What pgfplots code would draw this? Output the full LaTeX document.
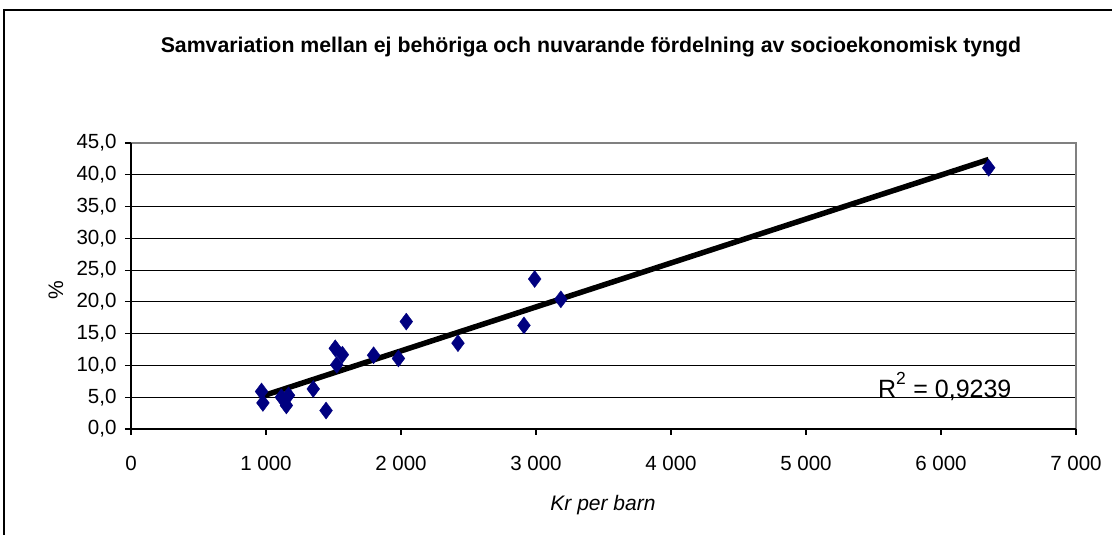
\documentclass[border=0pt]{standalone}
\usepackage{fontspec}
\setmainfont{Liberation Sans}
\usepackage{pgfplots}
\pgfplotsset{compat=1.18}
\definecolor{navy}{RGB}{0,0,128}
\definecolor{frame}{RGB}{128,128,128}
\begin{document}
\begin{tikzpicture}[x=1pt,y=1pt]
\useasboundingbox (-131,-106) rectangle (981,429);
\fill[white] (-131,-106) rectangle (981,429);
\draw[line width=1.5pt] (-127,-112) -- (-127,419) -- (990,419);
\begin{axis}[at={(0,0)}, anchor=south west, scale only axis,
  width=945pt, height=286pt,
  xmin=0, xmax=7000, ymin=0, ymax=45,
  xtick={0,1000,2000,3000,4000,5000,6000,7000},
  xticklabels={0,1 000,2 000,3 000,4 000,5 000,6 000,7 000},
  ytick={0,5,10,15,20,25,30,35,40,45},
  yticklabels={{0,0},{5,0},{10,0},{15,0},{20,0},{25,0},{30,0},{35,0},{40,0},{45,0}},
  ticklabel style={font=\fontsize{20.5}{22}\selectfont},
  xticklabel style={yshift=-18pt},
  yticklabel style={xshift=-5pt},
  xtick pos=bottom, ytick pos=left,
  tick align=outside, major tick length=6pt,
  tick style={black, line width=1.2pt},
  axis line style={draw=none},
  ymajorgrids, grid style={black, line width=1.2pt},
  clip=false,
]
\draw[frame, line width=2pt] (rel axis cs:0,1) -- (rel axis cs:1,1) -- (rel axis cs:1,0);
\draw[black, line width=1.5pt] (rel axis cs:0,1) -- (rel axis cs:0,0) -- (rel axis cs:1,0);
\addplot[only marks, mark=diamond*, mark size=8.5pt, color=navy] coordinates {
(967,5.9) (977,4.1) (1114,5.0) (1151,3.7) (1167,5.3) (1350,6.3) (1445,2.9)
(1513,12.7) (1566,11.7) (1524,10.1) (1797,11.6) (1981,11.1) (2039,16.9)
(2422,13.5) (2911,16.3) (2990,23.6) (3184,20.4) (6353,41.1)
};
\addplot[black, line width=5.5pt] coordinates {(967,5.14) (6353,42.4)};
\node[anchor=base west, font=\fontsize{25}{27}\selectfont, inner sep=0pt] at (axis cs:5533,5.0) {R\raisebox{4pt}{\textsuperscript{2}} = 0,9239};
\end{axis}
\node[font=\bfseries\fontsize{21.3}{23}\selectfont] at (591-131,382) {Samvariation mellan ej behöriga och nuvarande fördelning av socioekonomisk tyngd};
\node[font=\itshape\fontsize{21}{23}\selectfont] at (472,-76) {Kr per barn};
\node[font=\fontsize{21}{23}\selectfont, rotate=90] at (-75,139) {\%};
\end{tikzpicture}
\end{document}
